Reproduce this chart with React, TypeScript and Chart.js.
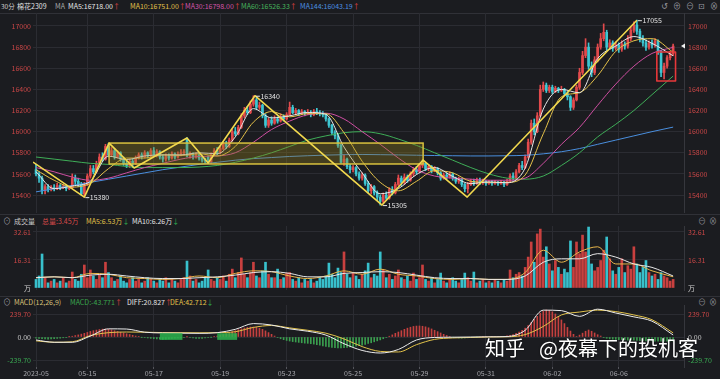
import React, { useEffect, useRef } from "react";
import { Chart, registerables } from "chart.js";

Chart.register(...registerables);

const FONT = "'Noto Sans CJK SC', 'DejaVu Sans', sans-serif";
const BG = "#1b1c20";
const GRID = "#2b2c32";
const UP = "#e24a4c";
const DN = "#3ec6d2";
const VUP = "#c9403f";
const VDN = "#38c0cc";
const RED_TXT = "#c84646";
const GREEN_TXT = "#3aa852";

// ---------- DATA ----------
const xTickIdx = [0, 17, 39, 61, 83, 105, 127, 149, 171, 193];
const xTickLabels = ["2023-05", "05-15", "05-17", "05-19", "05-23", "05-25", "05-29", "05-31", "06-02", "06-06"];
const priceTicks = [15400, 15600, 15800, 16000, 16200, 16400, 16600, 16800, 17000];
const volTicks = [0, 16.31, 32.61];
const macdTicks = [-239.7, 0, 239.7];

const OPEN = [
  15640,15600,15560,15440,15480,15450,15470,15460,15490,15470,
  15480,15460,15470,15560,15530,15500,15410,15500,15580,15650,
  15620,15700,15760,15740,15860,15780,15820,15760,15800,15740,
  15700,15680,15720,15700,15750,15780,15760,15800,15770,15820,
  15780,15810,15760,15740,15770,15750,15790,15760,15780,15800,
  15920,15770,15790,15760,15780,15750,15730,15760,15710,15780,
  15820,15800,15840,15880,15860,15920,16000,15980,16040,16150,
  16200,16180,16260,16300,16230,16250,16150,16060,16110,16080,
  16120,16100,16140,16120,16160,16230,16180,16200,16170,16190,
  16170,16180,16160,16190,16180,16170,16160,16120,16060,15990,
  15960,15870,15710,15740,15670,15640,15660,15600,15560,15590,
  15510,15440,15480,15420,15380,15340,15400,15370,15450,15420,
  15500,15560,15520,15570,15540,15600,15640,15620,15680,15700,
  15650,15670,15630,15650,15610,15560,15590,15570,15600,15560,
  15530,15550,15500,15460,15500,15530,15510,15540,15520,15530,
  15510,15520,15510,15520,15510,15520,15500,15530,15580,15560,
  15620,15680,15660,15760,15900,16080,16000,16150,16400,16440,
  16390,16420,16380,16410,16390,16400,16360,16330,16230,16300,
  16420,16560,16720,16800,16620,16560,16680,16800,16880,16940,
  16800,16840,16790,16820,16780,16830,16810,16880,16960,17010,
  16950,16880,16840,16800,16840,16820,16860,16760,16560,16620,
  16700,16740,
];
const HIGH = [
  15690,15620,15580,15500,15500,15490,15500,15510,15500,15500,
  15500,15490,15600,15590,15560,15520,15520,15600,15680,15680,
  15720,15790,15800,15880,15890,15850,15840,15820,15810,15760,
  15720,15740,15740,15770,15800,15800,15820,15810,15840,15850,
  15830,15820,15780,15790,15790,15810,15800,15810,15830,15830,
  15945,15810,15800,15800,15790,15770,15750,15770,15800,15840,
  15850,15860,15900,15910,15940,16020,16040,16060,16170,16230,
  16240,16290,16340,16320,16280,16260,16170,16130,16140,16150,
  16140,16170,16160,16180,16280,16250,16220,16210,16210,16200,
  16210,16200,16210,16220,16200,16190,16170,16130,16070,16010,
  15980,15880,15780,15750,15690,15680,15670,15620,15610,15600,
  15530,15500,15490,15440,15400,15420,15430,15470,15480,15520,
  15590,15580,15600,15590,15620,15660,15670,15700,15731,15710,
  15690,15680,15670,15660,15620,15610,15610,15620,15610,15570,
  15570,15560,15510,15520,15550,15550,15560,15560,15550,15540,
  15540,15540,15540,15530,15540,15530,15550,15600,15610,15640,
  15700,15720,15780,15930,16110,16120,16180,16440,16470,16460,
  16440,16440,16430,16420,16430,16410,16380,16340,16320,16440,
  16600,16760,16880,16840,16660,16710,16830,16930,17020,16960,
  16870,16860,16850,16840,16860,16850,16910,16990,17040,17055,
  16970,16910,16870,16860,16870,16880,16870,16770,16650,16720,
  16760,16830,
];
const LOW = [
  15580,15520,15410,15410,15430,15440,15440,15450,15450,15460,
  15440,15450,15460,15500,15480,15400,15380,15490,15560,15600,
  15610,15690,15720,15730,15760,15770,15740,15750,15720,15680,
  15660,15660,15660,15690,15740,15740,15750,15750,15760,15770,
  15760,15740,15710,15720,15730,15740,15740,15750,15770,15780,
  15760,15750,15740,15750,15730,15710,15700,15700,15700,15770,
  15780,15790,15830,15840,15850,15910,15960,15970,16030,16130,
  16160,16170,16240,16210,16210,16130,16040,16040,16060,16070,
  16080,16090,16100,16110,16150,16170,16160,16150,16160,16150,
  16160,16140,16150,16160,16150,16140,16100,16040,15970,15930,
  15850,15700,15680,15650,15610,15620,15580,15540,15540,15490,
  15420,15410,15400,15350,15305,15320,15350,15360,15400,15410,
  15490,15490,15500,15520,15530,15580,15600,15610,15660,15630,
  15630,15610,15620,15590,15540,15550,15550,15560,15540,15510,
  15510,15480,15430,15420,15490,15490,15500,15500,15500,15490,
  15500,15490,15500,15490,15500,15480,15490,15520,15540,15550,
  15610,15640,15650,15750,15880,15970,15990,16140,16380,16370,
  16370,16360,16370,16370,16380,16340,16300,16200,16210,16290,
  16400,16540,16700,16590,16520,16540,16660,16780,16860,16770,
  16780,16760,16770,16750,16760,16780,16790,16860,16940,16920,
  16850,16810,16770,16780,16790,16800,16730,16520,16500,16600,
  16680,16720,
];
const CLOSE = [
  15600,15560,15440,15480,15450,15470,15460,15490,15470,15480,
  15460,15470,15560,15530,15500,15410,15500,15580,15650,15620,
  15700,15760,15740,15860,15780,15820,15760,15800,15740,15700,
  15680,15720,15700,15750,15780,15760,15800,15770,15820,15780,
  15810,15760,15740,15770,15750,15790,15760,15780,15800,15810,
  15770,15790,15760,15780,15750,15730,15720,15710,15780,15820,
  15800,15840,15880,15860,15920,16000,15980,16040,16150,16200,
  16180,16260,16300,16230,16250,16150,16060,16110,16080,16120,
  16100,16140,16120,16160,16230,16180,16200,16170,16190,16170,
  16180,16160,16190,16180,16170,16160,16120,16060,15990,15960,
  15870,15710,15740,15670,15640,15660,15600,15560,15590,15510,
  15440,15480,15420,15380,15340,15400,15370,15450,15420,15500,
  15560,15520,15570,15540,15600,15640,15620,15680,15700,15650,
  15670,15630,15650,15610,15560,15590,15570,15600,15560,15530,
  15550,15500,15460,15500,15530,15510,15540,15520,15530,15510,
  15520,15510,15520,15510,15520,15500,15530,15580,15560,15620,
  15680,15660,15760,15900,16080,16000,16150,16400,16440,16390,
  16420,16380,16410,16390,16400,16360,16330,16230,16300,16420,
  16560,16720,16800,16620,16560,16680,16800,16880,16940,16800,
  16840,16790,16820,16780,16830,16810,16880,16960,17010,16950,
  16880,16840,16800,16840,16820,16860,16760,16560,16620,16700,
  16740,16810,
];
const VOLUME = [
  5,7,19.8,6,3,4,5,3,4,6,
  3,4,9.3,5,4,8,13.4,6,10.5,7,
  5,8,6,15,9,6,4,5,7,4,
  3,5,6,4,5,3,4,6,5,4,
  3,5,4,6,3,5,4,3,5,6,
  15.7,7,4,5,3,4,6,10.5,5,4,
  6,5,7,4,8,11,6,9,17.5,8,
  6,9,15,7,6,10,15,8,6,6,
  11,5,6,8.7,9,5,4,6,3,5,
  4,5,3,4,6,5,7,14.5,8,6,
  11.6,9,21,8,6,9,7,5,8,10,
  14.5,6,8,7,21,10.5,6,8,5,7,
  10.5,6,5,7,4,8.7,5,6,13.4,5,
  4,6,3,5,8.7,4,3,5,6,4,
  3,5,8.7,6,4,9.3,3,4,5,3,
  4,3,5,4,3,5,4,10.5,6,8,
  9,7,12,18,26.8,15,31.5,34.3,18,24,
  14,10,16,12,8,11,9,27.4,12,26.8,
  20,30.8,21,35.5,14,10,12,16,22,29.7,
  17,10,8,12,17,9,13,11,24,14,
  9,12,16,9,7,8,5,9,7,6,
  4,5,
];
const MACD_HIST = [
  -12,-15,-18,-20,-22,-20,-18,-15,-12,-8,
  -4,2,8,15,22,30,38,48,58,66,
  72,78,82,83,80,74,66,58,50,42,
  34,26,18,10,4,-2,-6,-10,-14,-18,
  -20,-22,-24,-22,-20,-16,-12,-10,-8,-4,
  2,-6,-10,-14,-16,-14,-10,-6,-2,4,
  10,18,26,36,46,56,66,76,86,94,
  100,104,104,100,92,80,64,46,28,10,
  -6,-18,-28,-36,-42,-48,-52,-56,-60,-64,
  -66,-70,-74,-80,-86,-92,-98,-104,-108,-112,
  -115,-114,-112,-108,-104,-100,-96,-90,-84,-76,
  -68,-60,-50,-40,-30,-18,-6,8,22,38,
  52,66,80,92,102,110,114,115,112,106,
  96,84,70,56,42,28,16,6,-2,-6,
  -10,-12,-10,-8,-6,-4,-2,0,2,4,
  6,6,4,4,6,8,12,18,26,38,
  52,70,92,120,152,184,216,248,270,281,
  276,262,240,212,178,140,100,62,28,6,
  20,40,60,73,60,42,24,10,-4,-14,
  -20,-24,-26,-28,-28,-30,-32,-34,-34,-36,
  -38,-38,-40,-42,-42,-44,-44,-44,-44,-44,
  -44,-44,
];

// indicator lines, read at these bar positions
const lineIdx = [0,6,12,18,24,30,36,42,48,54,60,66,72,78,84,90,96,102,108,114,120,126,132,138,144,150,156,162,168,174,180,186,192,198,204,211];
const MA5 = [15620,15460,15486,15530,15768,15736,15770,15780,15780,15800,15790,15950,16218,16130,16150,16182,16164,15854,15610,15412,15460,15594,15660,15576,15508,15524,15516,15656,16214,16400,16368,16692,16810,16900,16836,16718];
const MA10 = [15640,15540,15475,15510,15650,15750,15750,15780,15775,15790,15770,15860,16090,16190,16140,16170,16170,15990,15720,15520,15440,15530,15630,15610,15530,15520,15520,15590,15980,16330,16370,16530,16760,16860,16880,16751];
const MA30 = [15660,15620,15570,15540,15560,15610,15660,15700,15740,15765,15770,15800,15900,16020,16100,16160,16175,16120,16000,15880,15750,15640,15580,15560,15550,15540,15540,15560,15700,15880,16040,16250,16450,16620,16740,16798];
const MA60 = [15760,15740,15720,15700,15690,15670,15660,15660,15660,15665,15680,15710,15750,15800,15860,15920,15960,15990,16000,15980,15930,15870,15800,15730,15660,15600,15560,15550,15580,15680,15800,15950,16070,16200,16350,16526];
const MA144 = [15430,15460,15490,15520,15550,15580,15610,15640,15665,15690,15710,15730,15745,15755,15765,15772,15778,15782,15784,15782,15780,15777,15774,15772,15770,15770,15772,15776,15790,15810,15840,15880,15920,15960,16000,16043];
const VMA5 = [6,6.5,6,8.5,8,6,5.5,5,5.5,7,6,8.5,10,9.5,7,5.5,7,10,8,11,8,7,5.5,5,5.5,5,5,9,22,15,21,24,14,14,10,6.53];
const VMA10 = [6,6.5,6,7.5,8,7,6,5.5,5.5,6,6.5,7.5,9,9.5,8.5,6.5,6.5,8.5,9,9.5,9,7.5,6,5.5,5.5,5,5,7,15,17,17,20,18,14,12,7];
const DIFF = [-31,-55,-55,10,85,83,50,42,40,38,45,80,140,125,85,60,20,-70,-140,-167,-130,-31,-5,-2,0,2,5,70,280,275,215,290,250,210,165,21];
const DEA = [-40,-55,-50,15,45,52,50,46,45,44,45,55,100,120,95,70,40,-20,-100,-150,-156,-80,-25,-10,-5,0,2,25,110,230,260,280,265,230,180,43];

// drawn wave lines (zigzag), consolidation box, highlight box
const zigX = [-1, 16, 24.2, 32.5, 50, 57, 72.5, 114.6, 128.2, 142.8, 199];
const zigY = [15712, 15380, 15892, 15656, 15940, 15703, 16340, 15305, 15731, 15381, 17055];
const zigLabelled = [1, 6, 7, 10];
const boxX = [24.2, 128.2];
const boxY = [15694, 15892];
const redBoxX = [205.6, 211.8];
const redBoxY = [16480, 16754];
const macdMarkX = [[41, 48.5], [60, 66.6]];
const macdMarkY = [-30, 40];

// ---------- SCALES ----------
const X_MIN = -1;
const X_MAX = 214.6;

function xAxis(show: boolean): any {
  return {
    type: "linear",
    min: X_MIN,
    max: X_MAX,
    offset: false,
    afterBuildTicks: (s: any) => {
      s.ticks = xTickIdx.map((v) => ({ value: v }));
    },
    afterFit: (s: any) => {
      s.height = show ? 12 : 0;
      s.paddingLeft = 0;
      s.paddingRight = 0;
    },
    ticks: {
      display: show,
      autoSkip: false,
      maxRotation: 0,
      padding: 0,
      color: "#a4a4aa",
      font: { size: 7, family: FONT },
      callback: (v: any) => {
        const k = xTickIdx.indexOf(Number(v));
        return k >= 0 ? xTickLabels[k] : "";
      },
    },
    grid: { color: GRID, offset: false, drawTicks: show, tickLength: 2, tickColor: "#55565c" },
    border: { display: false },
  };
}

function yAxes(min: number, max: number, ticks: number[], color: (v: number) => string, fmt: (v: number) => string, hideZero = false): any {
  const tickOpts = {
    color: (c: any) => color(c.tick ? c.tick.value : 0),
    font: { size: 7, family: FONT },
    autoSkip: false,
    callback: (v: any) => fmt(Number(v)),
  };
  const build = (s: any) => {
    s.ticks = ticks.map((v) => ({ value: v }));
  };
  return {
    y: {
      type: "linear",
      position: "left",
      min,
      max,
      afterBuildTicks: build,
      afterFit: (s: any) => {
        s.width = 33;
        s.paddingTop = 0;
        s.paddingBottom = 0;
      },
      ticks: { ...tickOpts, padding: 2 },
      grid: {
        color: (c: any) => (hideZero && c.tick && c.tick.value === 0 ? "rgba(0,0,0,0)" : GRID),
        drawTicks: false,
      },
      border: { display: false },
    },
    y2: {
      type: "linear",
      position: "right",
      min,
      max,
      afterBuildTicks: build,
      afterFit: (s: any) => {
        s.width = 36;
        s.paddingTop = 0;
        s.paddingBottom = 0;
      },
      ticks: { ...tickOpts, padding: 4 },
      grid: { display: false, drawTicks: false },
      border: { display: true, color: "#36373d", width: 1 },
    },
  };
}

const baseOptions = {
  animation: false,
  responsive: false,
  devicePixelRatio: 1,
  events: [],
  plugins: { legend: { display: false }, tooltip: { enabled: false } },
};

function lineSet(values: number[], color: string, width = 1): any {
  return {
    type: "line",
    data: lineIdx.map((xi, k) => ({ x: xi, y: values[k] })),
    borderColor: color,
    borderWidth: width,
    pointRadius: 0,
    cubicInterpolationMode: "monotone",
    order: 1,
    yAxisID: "y",
  };
}

// ---------- OVERLAYS ----------
const mainOverlay = {
  id: "mainOverlay",
  afterDatasetsDraw(chart: any) {
    const { ctx, chartArea: a, scales } = chart;
    const px = (v: number) => scales.x.getPixelForValue(v);
    const py = (v: number) => scales.y.getPixelForValue(v);
    ctx.save();
    ctx.beginPath();
    ctx.rect(a.left, a.top, a.right - a.left, a.bottom - a.top);
    ctx.clip();
    // consolidation box
    const bx0 = px(boxX[0]);
    const bx1 = px(boxX[1]);
    const by0 = py(boxY[1]);
    const by1 = py(boxY[0]);
    ctx.fillStyle = "rgba(150,130,30,0.34)";
    ctx.fillRect(bx0, by0, bx1 - bx0, by1 - by0);
    ctx.strokeStyle = "#d9c23e";
    ctx.lineWidth = 1.5;
    ctx.strokeRect(bx0, by0, bx1 - bx0, by1 - by0);
    // zigzag
    ctx.strokeStyle = "#f2d94e";
    ctx.lineWidth = 1.6;
    ctx.lineJoin = "round";
    ctx.beginPath();
    zigX.forEach((v, i) => {
      if (i === 0) ctx.moveTo(px(v), py(zigY[i]));
      else ctx.lineTo(px(v), py(zigY[i]));
    });
    ctx.stroke();
    // red highlight box
    const rx0 = px(redBoxX[0]);
    const rx1 = px(redBoxX[1]);
    const ry0 = py(redBoxY[1]);
    const ry1 = py(redBoxY[0]);
    ctx.strokeStyle = "#e8383a";
    ctx.lineWidth = 1.6;
    ctx.strokeRect(rx0, ry0, rx1 - rx0, ry1 - ry0);
    // extreme labels
    ctx.font = `7px ${FONT}`;
    ctx.textBaseline = "middle";
    ctx.fillStyle = "#e4e4e4";
    ctx.strokeStyle = "#e4e4e4";
    ctx.lineWidth = 1;
    zigLabelled.forEach((k) => {
      const X = px(zigX[k]);
      const Y = py(zigY[k]);
      ctx.beginPath();
      ctx.moveTo(X + 1, Y + 0.5);
      ctx.lineTo(X + 5, Y + 0.5);
      ctx.stroke();
      ctx.fillText(String(zigY[k]), X + 5.5, Y + 0.5);
    });
    ctx.restore();
    // last price marker
    const ly = py(CLOSE[CLOSE.length - 1]);
    ctx.save();
    ctx.fillStyle = "#f2f2f2";
    ctx.beginPath();
    ctx.moveTo(a.right - 3, ly);
    ctx.lineTo(a.right + 1, ly - 2.5);
    ctx.lineTo(a.right + 1, ly + 2.5);
    ctx.closePath();
    ctx.fill();
    ctx.restore();
  },
};

const macdOverlay = {
  id: "macdOverlay",
  afterDatasetsDraw(chart: any) {
    const { ctx, scales } = chart;
    const px = (v: number) => scales.x.getPixelForValue(v);
    const py = (v: number) => scales.y.getPixelForValue(v);
    ctx.save();
    ctx.fillStyle = "rgba(44,180,78,0.85)";
    macdMarkX.forEach(([a, b]) => {
      ctx.fillRect(px(a), py(macdMarkY[1]), px(b) - px(a), py(macdMarkY[0]) - py(macdMarkY[1]));
    });
    ctx.restore();
  },
};

// ---------- CONFIGS ----------
const P_MIN = 15230;
const P_MAX = 17123;
const V_MIN = -1.165;
const V_MAX = 36.1;
const M_MIN = -312.6;
const M_MAX = 333.5;

function mainConfig(): any {
  const colors = OPEN.map((o, i) => (CLOSE[i] >= o ? UP : DN));
  return {
    type: "bar",
    data: {
      datasets: [
        lineSet(MA5, "#e8e8e8"),
        lineSet(MA10, "#e6c34a"),
        lineSet(MA30, "#cf4fa2"),
        lineSet(MA60, "#3fae58"),
        lineSet(MA144, "#4a8fde"),
        {
          type: "bar",
          data: OPEN.map((o, i) => ({ x: i, y: [o, CLOSE[i]] })),
          backgroundColor: colors,
          barThickness: 2,
          minBarLength: 1,
          grouped: false,
          order: 2,
          yAxisID: "y",
        },
        {
          type: "bar",
          data: OPEN.map((o, i) => ({ x: i, y: [LOW[i], HIGH[i]] })),
          backgroundColor: colors,
          barThickness: 1,
          grouped: false,
          order: 3,
          yAxisID: "y",
        },
      ],
    },
    options: {
      ...baseOptions,
      layout: { padding: 0 },
      scales: {
        x: xAxis(false),
        ...yAxes(P_MIN, P_MAX, priceTicks, () => RED_TXT, (v) => String(v)),
      },
    },
    plugins: [mainOverlay],
  };
}

function volConfig(): any {
  const colors = OPEN.map((o, i) => (CLOSE[i] >= o ? VUP : VDN));
  return {
    type: "bar",
    data: {
      datasets: [
        lineSet(VMA10, "#e8e8e8"),
        lineSet(VMA5, "#e8b64a"),
        {
          type: "bar",
          data: VOLUME.map((v, i) => ({ x: i, y: v })),
          backgroundColor: colors,
          barThickness: 2,
          grouped: false,
          order: 2,
          yAxisID: "y",
        },
      ],
    },
    options: {
      ...baseOptions,
      layout: { padding: { bottom: 5 } },
      scales: {
        x: xAxis(false),
        ...yAxes(V_MIN, V_MAX, volTicks, (v) => (v === 0 ? "#d2d2d2" : RED_TXT), (v) => (v === 0 ? "万" : v.toFixed(2)), true),
      },
    },
  };
}

function macdConfig(): any {
  const colors = MACD_HIST.map((v) => (v >= 0 ? "#c4403f" : "#3a9e4e"));
  return {
    type: "bar",
    data: {
      datasets: [
        lineSet(DIFF, "#ececec"),
        lineSet(DEA, "#e2c24a"),
        {
          type: "bar",
          data: MACD_HIST.map((v, i) => ({ x: i, y: v })),
          backgroundColor: colors,
          barThickness: 1,
          grouped: false,
          order: 2,
          yAxisID: "y",
        },
      ],
    },
    options: {
      ...baseOptions,
      layout: { padding: { top: 1 } },
      scales: {
        x: xAxis(true),
        ...yAxes(
          M_MIN,
          M_MAX,
          macdTicks,
          (v) => (v > 0 ? RED_TXT : v < 0 ? GREEN_TXT : "#c8c8c8"),
          (v) => v.toFixed(2)
        ),
      },
    },
    plugins: [macdOverlay],
  };
}

// ---------- UI ----------
function T(props: { x: number; y: number; c: string; s?: number; children: any }) {
  const s = props.s ?? 7;
  return (
    <span
      style={{
        position: "absolute",
        left: props.x,
        top: props.y - 6,
        height: 12,
        lineHeight: "12px",
        fontSize: s,
        color: props.c,
        whiteSpace: "nowrap",
      }}
    >
      {props.children}
    </span>
  );
}

const UPA = <span style={{ color: "#e04444" }}>↑</span>;
const DNA = <span style={{ color: "#2fb050" }}>↓</span>;

export default function App() {
  const mainRef = useRef<HTMLCanvasElement>(null);
  const volRef = useRef<HTMLCanvasElement>(null);
  const macdRef = useRef<HTMLCanvasElement>(null);

  useEffect(() => {
    Chart.defaults.font.family = FONT;
    const charts = [
      new Chart(mainRef.current as HTMLCanvasElement, mainConfig()),
      new Chart(volRef.current as HTMLCanvasElement, volConfig()),
      new Chart(macdRef.current as HTMLCanvasElement, macdConfig()),
    ];
    return () => charts.forEach((c) => c.destroy());
  }, []);

  const line = (top: number) => (
    <div style={{ position: "absolute", left: 0, top, width: 720, height: 1, background: "#303137" }} />
  );

  return (
    <div
      style={{
        position: "fixed",
        left: 0,
        top: 0,
        width: 720,
        height: 379,
        background: BG,
        overflow: "hidden",
        fontFamily: FONT,
      }}
    >
      <style>{`body{margin:0;background:${BG};}`}</style>

      {/* main header */}
      <T x={1} y={6} c="#cfcfcf" s={6.5}>30分</T>
      <T x={17} y={6} c="#e2e2e2">棉花2309</T>
      <T x={55} y={6} c="#a8a8a8">MA</T>
      <T x={68} y={6} c="#e6e6e6">MA5:16718.00{UPA}</T>
      <T x={130} y={6} c="#e2c24a">MA10:16751.00{UPA}</T>
      <T x={185} y={6} c="#d454a8">MA30:16798.00{UPA}</T>
      <T x={241} y={6} c="#46b45c">MA60:16526.33{UPA}</T>
      <T x={300} y={6} c="#4b8fe0">MA144:16043.19{UPA}</T>
      <T x={661} y={6} c="#9a9aa0" s={8}>↺</T>
      <T x={673} y={6} c="#9a9aa0" s={8}>⊕</T>
      <T x={686} y={6} c="#9a9aa0" s={8}>⊖</T>
      <T x={698} y={6} c="#9a9aa0" s={8}>⊡</T>
      <T x={710} y={6} c="#9a9aa0" s={8}>⊗</T>
      {line(13)}

      <canvas ref={mainRef} width={720} height={200} style={{ position: "absolute", left: 0, top: 13, display: "block" }} />

      {line(214)}
      {/* volume header */}
      <T x={3} y={221} c="#9a9aa0" s={8}>⊙</T>
      <T x={14} y={221} c="#c8c8c8">成交量</T>
      <T x={42} y={221} c="#d84a4a">总量:3.45万</T>
      <T x={86} y={221} c="#e2c24a">MA5:6.53万{DNA}</T>
      <T x={132} y={221} c="#e6e6e6">MA10:6.26万{DNA}</T>
      <T x={698} y={221} c="#8a8a90" s={8}>⊖</T>
      <T x={709} y={221} c="#8a8a90" s={8}>⊗</T>

      <canvas ref={volRef} width={720} height={69} style={{ position: "absolute", left: 0, top: 226, display: "block" }} />

      {line(296)}
      {/* macd header */}
      <T x={3} y={302} c="#9a9aa0" s={8}>⊙</T>
      <T x={14} y={302} c="#d8c078">MACD(12,26,9)</T>
      <T x={70} y={302} c="#3aa64e">MACD:-43.771{UPA}</T>
      <T x={127} y={302} c="#e6e6e6">DIFF:20.827{UPA}</T>
      <T x={170} y={302} c="#e2c24a">DEA:42.712{DNA}</T>
      <T x={698} y={302} c="#8a8a90" s={8}>⊖</T>
      <T x={709} y={302} c="#8a8a90" s={8}>⊗</T>

      <canvas ref={macdRef} width={720} height={75} style={{ position: "absolute", left: 0, top: 304, display: "block" }} />

      {/* watermark */}
      <span
        style={{
          position: "absolute",
          left: 485,
          top: 337,
          fontSize: 20,
          lineHeight: "22px",
          color: "#ffffff",
          whiteSpace: "nowrap",
          textShadow: "0 0 2px rgba(0,0,0,0.7)",
        }}
      >
        知乎
      </span>
      <span
        style={{
          position: "absolute",
          left: 539,
          top: 337,
          fontSize: 20,
          lineHeight: "22px",
          color: "#ffffff",
          whiteSpace: "nowrap",
          textShadow: "0 0 2px rgba(0,0,0,0.7)",
        }}
      >
        @夜幕下的投机客
      </span>
    </div>
  );
}
